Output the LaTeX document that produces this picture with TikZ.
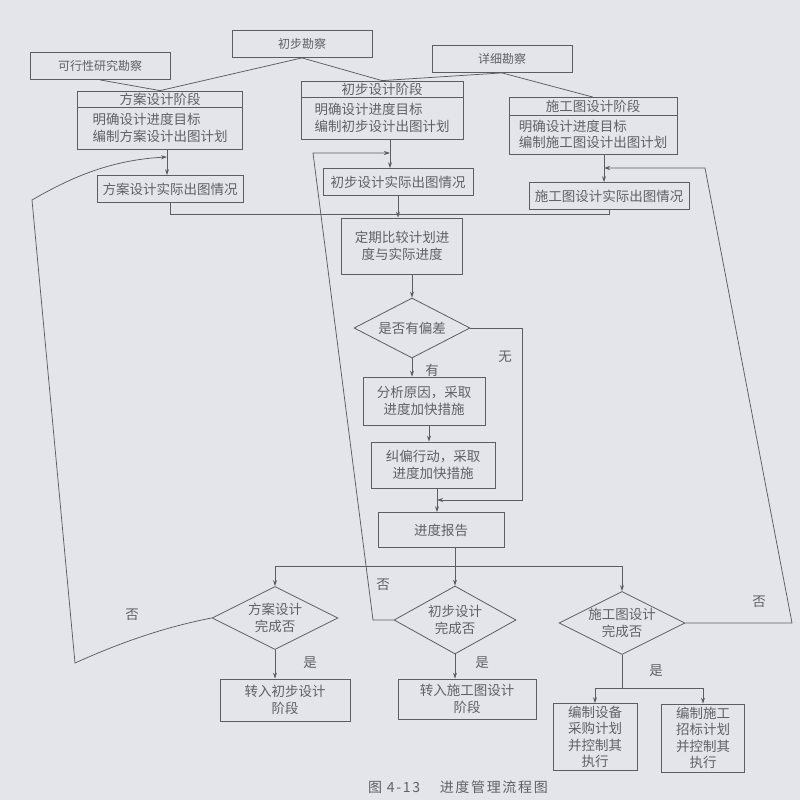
\documentclass[tikz,border=0pt]{standalone}
\usepackage{fontspec}
\setmainfont{Noto Sans CJK SC}
\usetikzlibrary{arrows.meta,shapes.geometric}
\definecolor{pagebg}{RGB}{228,229,234}
\definecolor{ink}{RGB}{92,92,98}
\definecolor{txt}{RGB}{96,96,102}
\begin{document}
\begin{tikzpicture}[x=1pt,y=-1pt,
  every node/.style={font=\fontsize{13.5}{16.5}\selectfont, text=txt},
  box/.style={draw=ink, line width=0.8pt, rectangle, inner sep=2pt, align=center},
  topbox/.style={box, minimum width=140pt, minimum height=27pt, font=\fontsize{12}{14}\selectfont},
  dec/.style={draw=ink, line width=0.8pt, diamond, aspect=2, inner sep=0pt, align=center},
  conn/.style={draw=ink, line width=0.75pt},
  arr/.style={conn, -{Stealth[length=6pt,width=4pt]}},
  lbl/.style={inner sep=1pt}]
\fill[pagebg] (0,0) rectangle (800,800);
\useasboundingbox (0,0) rectangle (800,800);

% survey boxes
\node[topbox] (kx) at (100,66) {可行性研究勘察};
\node[topbox] (cb) at (302,44) {初步勘察};
\node[topbox] (xx) at (502,59) {详细勘察};

% phase boxes
\node[box, minimum width=165pt, minimum height=58pt] (fa) at (160,120) {};
\node[box, minimum width=162pt, minimum height=58pt] (cs) at (382,110) {};
\node[box, minimum width=168pt, minimum height=57pt] (sg) at (593,126) {};
\draw[conn] ([yshift=-17pt]fa.north west) -- ([yshift=-17pt]fa.north east);
\draw[conn] ([yshift=-17pt]cs.north west) -- ([yshift=-17pt]cs.north east);
\draw[conn] ([yshift=-18pt]sg.north west) -- ([yshift=-18pt]sg.north east);
\node (fah) at ([yshift=-8.5pt]fa.north) {方案设计阶段};
\node (csh) at ([yshift=-8.5pt]cs.north) {初步设计阶段};
\node (sgh) at ([yshift=-9pt]sg.north) {施工图设计阶段};
\node[align=left] (fab) at ([yshift=-37.5pt]fa.north) {明确设计进度目标\\编制方案设计出图计划};
\node[align=left] (csb) at ([yshift=-37.5pt]cs.north) {明确设计进度目标\\编制初步设计出图计划};
\node[align=left] (sgb) at ([yshift=-37.5pt]sg.north) {明确设计进度目标\\编制施工图设计出图计划};

% actual drawing boxes
\node[box, minimum width=146pt, minimum height=27pt] (fa2) at (170,189) {方案设计实际出图情况};
\node[box, minimum width=150pt, minimum height=27pt] (cs2) at (398,182) {初步设计实际出图情况};
\node[box, minimum width=160pt, minimum height=27pt] (sg2) at (609,196) {施工图设计实际出图情况};

% central column
\node[box, minimum width=121pt, minimum height=56pt] (dq) at (402,246) {定期比较计划进\\度与实际进度};
\node[dec, minimum width=116pt, minimum height=60pt] (dp) at (412,328) {是否有偏差};
\node[box, minimum width=122pt, minimum height=48pt] (fx) at (424,401) {分析原因，采取\\进度加快措施};
\node[box, minimum width=124pt, minimum height=46pt] (jp) at (433,465) {纠偏行动，采取\\进度加快措施};
\node[box, minimum width=126pt, minimum height=35pt] (bg) at (441,530) {进度报告};

% completion decisions
\node[dec, minimum width=126pt, minimum height=63pt] (dA) at (275,618) {方案设计\\完成否};
\node[dec, minimum width=122pt, minimum height=68pt] (dB) at (455,620) {初步设计\\完成否};
\node[dec, minimum width=126pt, minimum height=63pt] (dC) at (622,623) {施工图设计\\完成否};

% results
\node[box, minimum width=130pt, minimum height=42pt] (ta) at (285,700) {转入初步设计\\阶段};
\node[box, minimum width=138pt, minimum height=40pt] (tb) at (467,699) {转入施工图设计\\阶段};
\node[box, minimum width=84pt, minimum height=67pt] (bz1) at (595,737) {编制设备\\采购计划\\并控制其\\执行};
\node[box, minimum width=83pt, minimum height=68pt] (bz2) at (703,738) {编制施工\\招标计划\\并控制其\\执行};

% helper coordinates
\coordinate (colA) at (167,0);
\coordinate (colB) at (390,0);
\coordinate (colC) at (604,0);
\coordinate (colJ) at (437,0);
\coordinate (colF) at (429,0);
\coordinate (mg) at (0,214);
\coordinate (br) at (0,566);
\coordinate (sp) at (0,688);
\coordinate (fbA) at (163,157);
\coordinate (fbB) at (313,153);
\coordinate (fbC) at (705,168);
\coordinate (cA1) at (75,663);
\coordinate (cA2) at (32,200);
\coordinate (cB1) at (373,620);
\coordinate (cC1) at (792,623);
\coordinate (wu) at (522,500);

% survey links
\draw[conn] (kx.south) -- (fa.north);
\draw[conn] (cb.south) -- (fa.north);
\draw[conn] (cb.south) -- (cs.north);
\draw[conn] (xx.south) -- (cs.north);
\draw[conn] (xx.south) -- (sg.north);

% phase -> actual
\draw[arr] (fa.south -| colA) -- (fa2.north -| colA);
\draw[arr] (cs.south -| colB) -- (cs2.north -| colB);
\draw[arr] (sg.south -| colC) -- (sg2.north -| colC);

% merge into comparison
\draw[conn] (fa2.south) -- (fa2.south |- mg) -- (sg2.south |- mg) -- (sg2.south);
\draw[arr] (cs2.south) -- (cs2.south |- dq.north);

% central flow
\draw[arr] (dq.south -| dp.north) -- (dp.north);
\draw[arr] (dp.south) -- (dp.south |- fx.north);
\draw[arr] (fx.south -| colF) -- (jp.north -| colF);
\draw[arr] (jp.south -| colJ) -- (bg.north -| colJ);
\draw[arr] (dp.east) -| (wu) -- (wu -| colJ);
\draw[arr] (bg.south -| dB.north) -- (dB.north);

% branch to decisions
\draw[conn] (br -| dA.north) -- (br -| dC.north);
\draw[arr] (br -| dA.north) -- (dA.north);
\draw[arr] (br -| dC.north) -- (dC.north);

% yes branches
\draw[arr] (dA.south) -- (dA.south |- ta.north);
\draw[arr] (dB.south) -- (dB.south |- tb.north);
\draw[conn] (dC.south) -- (dC.south |- sp);
\draw[conn] (sp -| bz1.north) -- (sp -| bz2.north);
\draw[arr] (sp -| bz1.north) -- (bz1.north);
\draw[arr] (sp -| bz2.north) -- (bz2.north);

% no loops
\draw[arr] (dA.west) .. controls (160,628) and (115,645) .. (cA1) -- (cA2)
   .. controls (70,178) and (110,160) .. (fbA -| colA);
\draw[arr] (dB.west) -- (cB1) -- (fbB) -- (fbB -| colB);
\draw[arr] (dC.east) -- (cC1) -- (fbC) -- (fbC -| colC);

% labels
\node[lbl] (lyou) at (432,370) {有};
\node[lbl] (lwu) at (505,357) {无};
\node[lbl] (lfA) at (132,615) {否};
\node[lbl] (lfB) at (383,585) {否};
\node[lbl] (lfC) at (759,602) {否};
\node[lbl] (lsA) at (310,663) {是};
\node[lbl] (lsB) at (482,663) {是};
\node[lbl] (lsC) at (656,671) {是};

% caption
\node (cap) at (458,787) {\fontsize{14}{16}\selectfont\addfontfeature{LetterSpace=12}图 4-13\hspace{1.4em}进度管理流程图};
\end{tikzpicture}
\end{document}
